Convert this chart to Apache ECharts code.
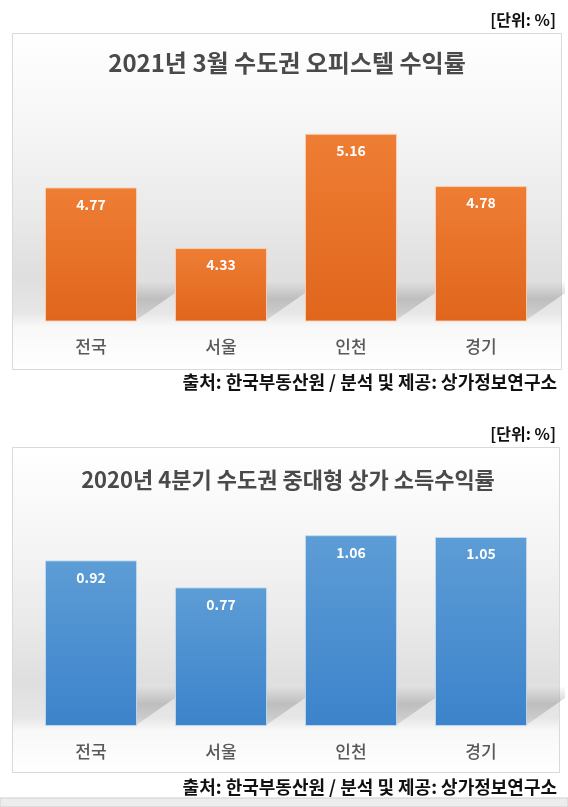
<!DOCTYPE html>
<html>
<head>
<meta charset="utf-8">
<script src="https://cdn.jsdelivr.net/npm/echarts@6/dist/echarts.min.js"></script>
<style>
html,body{margin:0;padding:0;background:#fff;}
#c{width:568px;height:807px;}
</style>
</head>
<body>
<div id="c"></div>
<script>
const categories = ['전국', '서울', '인천', '경기'];
const officeYield = [4.77, 4.33, 5.16, 4.78];
const retailYield = [0.92, 0.77, 1.06, 1.05];
const topTitle = '2021년 3월 수도권 오피스텔 수익률';
const bottomTitle = '2020년 4분기 수도권 중대형 상가 소득수익률';
const unitText = '[단위: %]';
const sourceText = '출처: 한국부동산원 / 분석 및 제공: 상가정보연구소';

const FONT = '"Noto Sans CJK KR", "Noto Sans", sans-serif';
const chart = echarts.init(document.getElementById('c'), null, {renderer: 'canvas'});

const boxBg = {
  type: 'linear', x: 0, y: 0, x2: 0, y2: 1,
  colorStops: [
    {offset: 0, color: '#ffffff'},
    {offset: 0.3, color: '#f5f5f5'},
    {offset: 0.55, color: '#e9e9e9'},
    {offset: 0.72, color: '#dfdfdf'},
    {offset: 0.83, color: '#e6e6e6'},
    {offset: 0.87, color: '#f8f8f8'},
    {offset: 1, color: '#ffffff'}
  ]
};

function barGrad(top, bottom) {
  return {type: 'linear', x: 0, y: 0, x2: 0, y2: 1,
    colorStops: [{offset: 0, color: top}, {offset: 1, color: bottom}]};
}

function shadowSeries(idx, values) {
  return {
    type: 'custom',
    xAxisIndex: idx, yAxisIndex: idx,
    z: 1,
    silent: true,
    data: values.map((v, i) => [i, v]),
    encode: {x: 0, y: 1},
    renderItem: function (params, api) {
      const i = api.value(0);
      const pt = api.coord([i, api.value(1)]);
      const cs = params.coordSys;
      const yb = cs.y + cs.height;
      const band = api.size([1, 0])[0];
      const w = band * 0.708;
      const xr = pt[0] + w / 2;
      const dx = band - w;
      const H = 40;
      return {
        type: 'polygon',
        shape: {points: [[xr - 2, yb], [xr + dx, yb - 28], [xr + dx, yb - H], [xr - 2, yb - H]]},
        style: {
          fill: {type: 'linear', x: 0, y: 0, x2: 0, y2: 1,
            colorStops: [
              {offset: 0, color: 'rgba(120,120,120,0)'},
              {offset: 0.45, color: 'rgba(120,120,120,0.35)'},
              {offset: 1, color: 'rgba(120,120,120,0.18)'}
            ]}
        }
      };
    }
  };
}

function barSeries(idx, values, cTop, cBottom, border) {
  return {
    type: 'bar',
    xAxisIndex: idx, yAxisIndex: idx,
    z: 2,
    data: values,
    barWidth: '70.8%',
    itemStyle: {color: barGrad(cTop, cBottom), borderColor: border, borderWidth: 1},
    label: {
      show: true, position: 'insideTop', distance: 10,
      color: '#ffffff', fontFamily: FONT, fontWeight: 'bold', fontSize: 14,
      formatter: p => p.value.toFixed(2)
    }
  };
}

function xAx(idx) {
  return {
    type: 'category', gridIndex: idx, data: categories,
    axisLine: {show: false}, axisTick: {show: false},
    axisLabel: {color: '#595959', fontFamily: FONT, fontSize: 17, fontWeight: 500, margin: 17}
  };
}

const option = {
  animation: false,
  title: [
    {text: topTitle, left: 287, top: 49, textAlign: 'center', padding: 0,
      textStyle: {fontFamily: FONT, fontSize: 24, fontWeight: 'bold', color: '#4a4a4a', lineHeight: 27}},
    {text: bottomTitle, left: 288, top: 467, textAlign: 'center', padding: 0,
      textStyle: {fontFamily: FONT, fontSize: 22, fontWeight: 'bold', color: '#4a4a4a', lineHeight: 25}}
  ],
  graphic: [
    {type: 'rect', z: -5, shape: {x: 12.5, y: 33.5, width: 549, height: 336},
      style: {fill: boxBg, stroke: '#d9d9d9', lineWidth: 1}},
    {type: 'rect', z: -5, shape: {x: 12.5, y: 447.5, width: 547, height: 325},
      style: {fill: boxBg, stroke: '#d9d9d9', lineWidth: 1}},
    {type: 'text', z: 5, style: {text: unitText, x: 556, y: 20, textAlign: 'right', textVerticalAlign: 'middle',
      font: 'bold 16px ' + FONT, fill: '#111111'}},
    {type: 'text', z: 5, style: {text: unitText, x: 556, y: 434, textAlign: 'right', textVerticalAlign: 'middle',
      font: 'bold 16px ' + FONT, fill: '#111111'}},
    {type: 'text', z: 5, style: {text: sourceText, x: 557, y: 382, textAlign: 'right', textVerticalAlign: 'middle',
      font: 'bold 18px ' + FONT, fill: '#111111'}},
    {type: 'text', z: 5, style: {text: sourceText, x: 557, y: 787, textAlign: 'right', textVerticalAlign: 'middle',
      font: 'bold 18px ' + FONT, fill: '#111111'}},
    {type: 'rect', z: -5, shape: {x: 0, y: 798, width: 568, height: 9},
      style: {fill: '#ededed', stroke: '#cfcfcf', lineWidth: 1}}
  ],
  grid: [
    {left: 26, width: 520, top: 87, height: 234},
    {left: 26, width: 520, top: 510, height: 216}
  ],
  xAxis: [xAx(0), xAx(1)],
  yAxis: [
    {type: 'value', gridIndex: 0, min: 3.8, max: 5.5, show: false, splitLine: {show: false}},
    {type: 'value', gridIndex: 1, min: 0, max: 1.2, show: false, splitLine: {show: false}}
  ],
  series: [
    shadowSeries(0, officeYield),
    barSeries(0, officeYield, '#ee7e34', '#e0661c', 'rgba(250,210,180,0.9)'),
    shadowSeries(1, retailYield),
    barSeries(1, retailYield, '#5d9dd6', '#3c83cb', 'rgba(195,218,240,0.9)')
  ]
};
chart.setOption(option);
</script>
</body>
</html>
